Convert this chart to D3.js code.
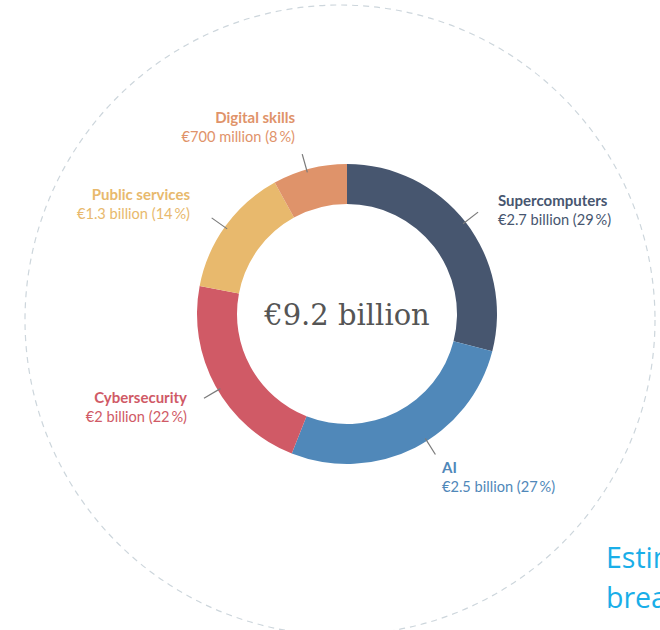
<!DOCTYPE html>
<html>
<head>
<meta charset="utf-8">
<script src="https://cdn.jsdelivr.net/npm/d3@7"></script>
<style>
  body { margin: 0; background: #fff; overflow: hidden; }
  .chart { width: 660px; height: 630px; }
  text { font-family: Lato, "Open Sans", sans-serif; }
</style>
</head>
<body>
<div class="chart"></div>
<script>
// chart data
let categories = ["Supercomputers", "AI", "Cybersecurity", "Public services", "Digital skills"];
let amounts = ["€2.7 billion", "€2.5 billion", "€2 billion", "€1.3 billion", "€700 million"];
let shares = [29, 27, 22, 14, 8];
let colours = ["#47566f", "#5088b9", "#d05a66", "#e8b96d", "#df936a"];
let totalLabel = "€9.2 billion";

let width = 660;
let height = 630;
let cx = 347;
let cy = 314;

let svg = d3.select(".chart").append("svg")
    .attr("width", width)
    .attr("height", height);

// big dashed ring behind everything
svg.append("circle")
    .attr("cx", 340)
    .attr("cy", 320)
    .attr("r", 315)
    .attr("fill", "none")
    .attr("stroke", "#cdd6dc")
    .attr("stroke-width", 1.2)
    .attr("stroke-dasharray", "6,5");

let plot = svg.append("g").attr("transform", `translate(${cx},${cy})`);

let pie = d3.pie().sort(null).value(d => d.share);
let arc = d3.arc().innerRadius(110).outerRadius(150);

let theData = categories.map((c, i) => {
    return { name: c, amount: amounts[i], share: shares[i], colour: colours[i] };
});

let arcs = pie(theData);

plot.selectAll(".slice")
    .data(arcs)
    .enter()
    .append("path")
    .attr("class", "slice")
    .attr("d", arc)
    .attr("fill", d => d.data.colour);

// leader lines and labels: angle along the ring + text offset
let labelPos = {
    "Supercomputers": { ang: 0.91, anchor: "start", x: 151, y: -108 },
    "AI": { ang: 2.58, anchor: "start", x: 95, y: 159 },
    "Cybersecurity": { ang: 4.18, anchor: "end", x: -160, y: 89 },
    "Public services": { ang: 5.33, anchor: "end", x: -157, y: -114 },
    "Digital skills": { ang: 6.01, anchor: "end", x: -52, y: -191 }
};

let leader = d3.scaleLinear().domain([0, 1]).range([147, 166]);

plot.selectAll(".leader")
    .data(arcs)
    .enter()
    .append("line")
    .attr("class", "leader")
    .attr("x1", d => leader(0) * Math.sin(labelPos[d.data.name].ang))
    .attr("y1", d => -leader(0) * Math.cos(labelPos[d.data.name].ang))
    .attr("x2", d => leader(1) * Math.sin(labelPos[d.data.name].ang))
    .attr("y2", d => -leader(1) * Math.cos(labelPos[d.data.name].ang))
    .attr("stroke", "#7a7a7a")
    .attr("stroke-width", 1.2);

let lab = plot.selectAll(".lab")
    .data(arcs)
    .enter()
    .append("text")
    .attr("class", "lab")
    .attr("text-anchor", d => labelPos[d.data.name].anchor)
    .attr("fill", d => d.data.colour);

lab.append("tspan")
    .attr("x", d => labelPos[d.data.name].x)
    .attr("y", d => labelPos[d.data.name].y)
    .attr("font-weight", "bold")
    .attr("font-size", 15)
    .text(d => d.data.name);

lab.append("tspan")
    .attr("x", d => labelPos[d.data.name].x)
    .attr("y", d => labelPos[d.data.name].y + 19)
    .attr("font-size", 14.6)
    .text(d => `${d.data.amount} (${d.data.share}\u2009%)`);

plot.append("text")
    .attr("text-anchor", "middle")
    .attr("y", 11)
    .attr("fill", "#555")
    .attr("font-size", 29)
    .style("font-family", "'DejaVu Serif', serif")
    .text(totalLabel);

// caption runs off the right edge, as in the source
let cap = svg.append("text")
    .attr("fill", "#1aaee8")
    .attr("font-size", 28.5)
    .style("font-family", "'Open Sans', sans-serif");
cap.append("tspan").attr("x", 606).attr("y", 568).text("Estimated");
cap.append("tspan").attr("x", 606).attr("y", 608).text("breakdown");
</script>
</body>
</html>
